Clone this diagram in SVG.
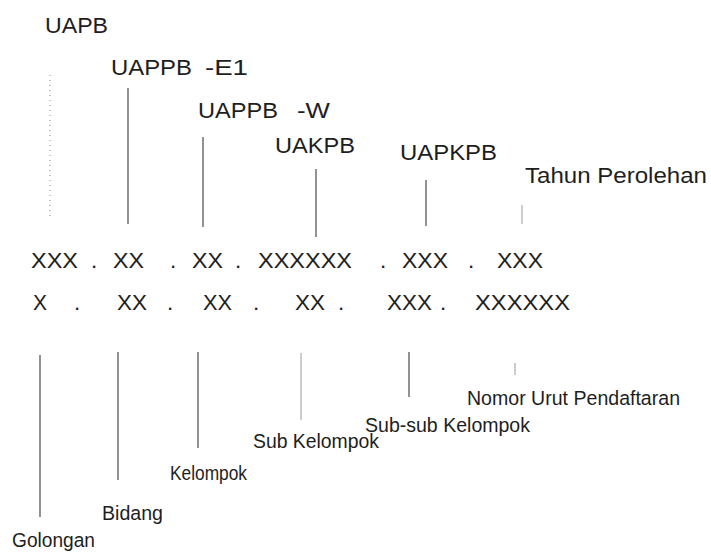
<svg xmlns="http://www.w3.org/2000/svg" width="711" height="553" viewBox="0 0 711 553">
<style>
text{font-family:"Liberation Sans",Arial,sans-serif;fill:#1e1e1e}
.top{font-size:22px}
.code{font-size:22.5px}
.bot{font-size:20.5px}
.ln{stroke:#4a4a4a;stroke-width:1.2;fill:none}
.lt{stroke:#9a9a9a;stroke-width:1;fill:none}
.dot{stroke:#8a8a8a;stroke-width:1;stroke-dasharray:1 4;fill:none}
</style>
<rect width="711" height="553" fill="#ffffff"/>
<g id="connectors">
<line class="dot" x1="50" y1="75" x2="50" y2="219"/>
<line class="ln" x1="128" y1="88" x2="128" y2="224"/>
<line class="ln" x1="203" y1="137" x2="203" y2="227"/>
<line class="ln" x1="316" y1="169" x2="316" y2="237"/>
<line class="ln" x1="426" y1="180" x2="426" y2="226"/>
<line class="lt" x1="522" y1="205" x2="522" y2="224"/>
<line class="ln" x1="40" y1="355" x2="40" y2="517"/>
<line class="ln" x1="118" y1="352" x2="118" y2="480"/>
<line class="ln" x1="198" y1="352" x2="198" y2="448"/>
<line class="lt" x1="301" y1="353" x2="301" y2="420"/>
<line class="ln" x1="409" y1="352" x2="409" y2="397"/>
<line class="lt" x1="515" y1="363" x2="515" y2="375"/>
</g>
<g id="uapb"><text class="top" x="45" y="33" textLength="63" lengthAdjust="spacingAndGlyphs">UAPB</text></g>
<g id="uappb-e1"><text class="top" y="75"><tspan x="111" textLength="81" lengthAdjust="spacingAndGlyphs">UAPPB</tspan> <tspan x="205" textLength="43" lengthAdjust="spacingAndGlyphs">-E1</tspan></text></g>
<g id="uappb-w"><text class="top" y="118"><tspan x="198" textLength="80" lengthAdjust="spacingAndGlyphs">UAPPB</tspan> <tspan x="297" textLength="33" lengthAdjust="spacingAndGlyphs">-W</tspan></text></g>
<g id="uakpb"><text class="top" x="275" y="153" textLength="80" lengthAdjust="spacingAndGlyphs">UAKPB</text></g>
<g id="uapkpb"><text class="top" x="400" y="160" textLength="97" lengthAdjust="spacingAndGlyphs">UAPKPB</text></g>
<g id="tahun"><text class="top" x="525" y="183" textLength="182" lengthAdjust="spacingAndGlyphs">Tahun Perolehan</text></g>
<g id="code-row1">
<text class="code" y="268"><tspan x="31" textLength="47" lengthAdjust="spacingAndGlyphs">XXX</tspan><tspan x="91">.</tspan><tspan x="113" textLength="31" lengthAdjust="spacingAndGlyphs">XX</tspan><tspan x="170">.</tspan><tspan x="192" textLength="31" lengthAdjust="spacingAndGlyphs">XX</tspan><tspan x="235">.</tspan><tspan x="258" textLength="94" lengthAdjust="spacingAndGlyphs">XXXXXX</tspan><tspan x="380">.</tspan><tspan x="402" textLength="46" lengthAdjust="spacingAndGlyphs">XXX</tspan><tspan x="468">.</tspan><tspan x="497" textLength="46" lengthAdjust="spacingAndGlyphs">XXX</tspan></text>
</g>
<g id="code-row2">
<text class="code" y="310"><tspan x="33" textLength="14" lengthAdjust="spacingAndGlyphs">X</tspan><tspan x="74">.</tspan><tspan x="117" textLength="30" lengthAdjust="spacingAndGlyphs">XX</tspan><tspan x="167">.</tspan><tspan x="203" textLength="29" lengthAdjust="spacingAndGlyphs">XX</tspan><tspan x="253">.</tspan><tspan x="295" textLength="30" lengthAdjust="spacingAndGlyphs">XX</tspan><tspan x="338">.</tspan><tspan x="387" textLength="45" lengthAdjust="spacingAndGlyphs">XXX</tspan><tspan x="440">.</tspan><tspan x="475" textLength="95" lengthAdjust="spacingAndGlyphs">XXXXXX</tspan></text>
</g>
<g id="golongan"><text class="bot" x="12" y="547" textLength="83" lengthAdjust="spacingAndGlyphs">Golongan</text></g>
<g id="bidang"><text class="bot" x="102" y="520" textLength="61" lengthAdjust="spacingAndGlyphs">Bidang</text></g>
<g id="kelompok"><text class="bot" x="170" y="480" textLength="77" lengthAdjust="spacingAndGlyphs">Kelompok</text></g>
<g id="sub-kelompok"><text class="bot" x="253" y="448" textLength="126" lengthAdjust="spacingAndGlyphs">Sub Kelompok</text></g>
<g id="sub-sub-kelompok"><text class="bot" x="365" y="432" textLength="165" lengthAdjust="spacingAndGlyphs">Sub-sub Kelompok</text></g>
<g id="nomor-urut"><text class="bot" x="467" y="405" textLength="213" lengthAdjust="spacingAndGlyphs">Nomor Urut Pendaftaran</text></g>
</svg>
